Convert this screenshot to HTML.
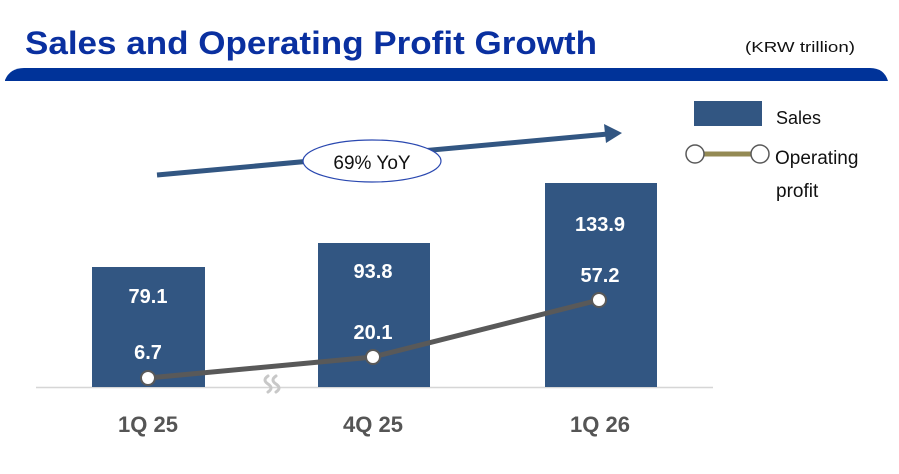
<!DOCTYPE html>
<html><head><meta charset="utf-8"><style>
html,body{margin:0;padding:0;background:#fff;}
svg{display:block;}
</style></head><body>
<svg width="899" height="474" viewBox="0 0 899 474" xmlns="http://www.w3.org/2000/svg">
<rect width="899" height="474" fill="#fff"/>
<text x="25" y="54" font-family="Liberation Sans, sans-serif" font-weight="bold" font-size="32" fill="#0a30a0" textLength="572" lengthAdjust="spacingAndGlyphs">Sales and Operating Profit Growth</text>
<text x="745" y="52" font-family="Liberation Sans, sans-serif" font-size="15" fill="#111" textLength="110" lengthAdjust="spacingAndGlyphs">(KRW trillion)</text>
<path d="M5,81 L5,80 Q10,68 24,68 L870,68 Q884,68 888,81 Z" fill="#003399"/>
<!-- axis -->
<line x1="36" y1="387.5" x2="713" y2="387.5" stroke="#d6d6d6" stroke-width="1.5"/>
<!-- bars -->
<rect x="92" y="267" width="113" height="120" fill="#325682"/>
<rect x="318" y="243" width="112" height="144" fill="#325682"/>
<rect x="545" y="183" width="112" height="204" fill="#325682"/>
<!-- break mark -->
<path d="M268,376 q-6,4 0,8 q6,4 0,8 M276,376 q-6,4 0,8 q6,4 0,8" stroke="#c8c8c8" stroke-width="3" fill="none" stroke-linecap="round"/>
<!-- line -->
<polyline points="148,378 373,357 599,300" fill="none" stroke="#595959" stroke-width="5"/>
<circle cx="148" cy="378" r="7" fill="#fff" stroke="#595959" stroke-width="2"/>
<circle cx="373" cy="357" r="7" fill="#fff" stroke="#595959" stroke-width="2"/>
<circle cx="599" cy="300" r="7" fill="#fff" stroke="#595959" stroke-width="2"/>
<g font-family="Liberation Sans, sans-serif" font-weight="bold" font-size="20" fill="#fff" text-anchor="middle">
<text x="148" y="303">79.1</text>
<text x="148" y="359">6.7</text>
<text x="373" y="278">93.8</text>
<text x="373" y="339">20.1</text>
<text x="600" y="231">133.9</text>
<text x="600" y="282">57.2</text>
</g>
<g font-family="Liberation Sans, sans-serif" font-weight="bold" font-size="22" fill="#555" text-anchor="middle">
<text x="148" y="432">1Q 25</text>
<text x="373" y="432">4Q 25</text>
<text x="600" y="432">1Q 26</text>
</g>
<!-- arrow -->
<line x1="157" y1="175" x2="608" y2="134" stroke="#325682" stroke-width="5"/>
<polygon points="622,133 604,124 606,143" fill="#325682"/>
<ellipse cx="372" cy="161" rx="69" ry="21" fill="#fff" stroke="#2a48b0" stroke-width="1.2"/>
<text x="372" y="169" font-family="Liberation Sans, sans-serif" font-size="19" fill="#111" text-anchor="middle">69% YoY</text>
<!-- legend -->
<rect x="694" y="101" width="68" height="25" fill="#325682"/>
<text x="776" y="124" font-family="Liberation Sans, sans-serif" font-size="18" fill="#111">Sales</text>
<line x1="695" y1="154" x2="760" y2="154" stroke="#948a54" stroke-width="5"/>
<circle cx="695" cy="154" r="9" fill="#fff" stroke="#595959" stroke-width="1.5"/>
<circle cx="760" cy="154" r="9" fill="#fff" stroke="#595959" stroke-width="1.5"/>
<text x="775" y="164" font-family="Liberation Sans, sans-serif" font-size="19" fill="#111">Operating</text>
<text x="776" y="197" font-family="Liberation Sans, sans-serif" font-size="19" fill="#111">profit</text>
</svg>
</body></html>
